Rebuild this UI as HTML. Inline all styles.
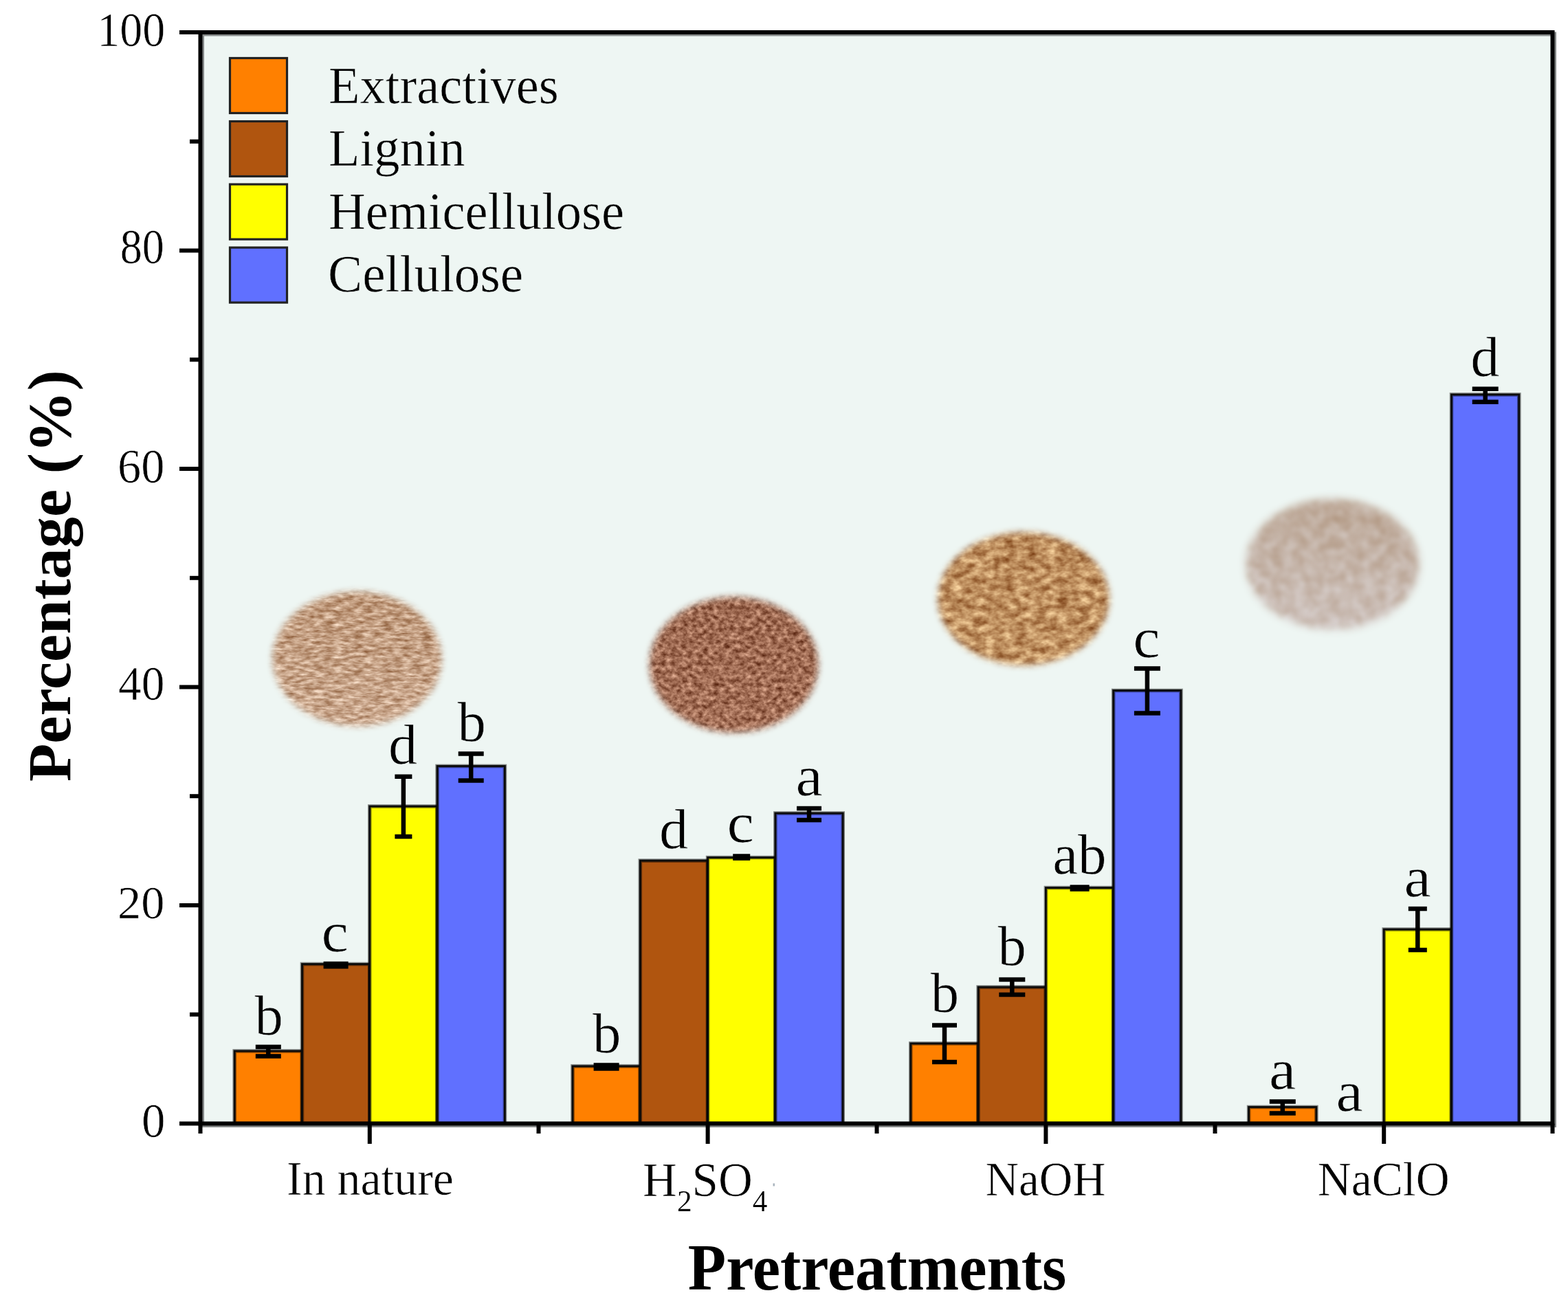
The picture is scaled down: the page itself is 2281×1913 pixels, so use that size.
<!DOCTYPE html>
<html><head><meta charset="utf-8"><title>Percentage chart</title>
<style>
html,body{margin:0;padding:0;background:#fff;}
body{width:2281px;height:1913px;overflow:hidden;}
svg{display:block;}
text{font-family:"Liberation Serif","Times New Roman",serif;fill:#000;}
</style></head><body>
<svg width="2281" height="1913" viewBox="0 0 2281 1913">
<defs>
<linearGradient id="gp1" x1="0" y1="860.5" x2="0" y2="1056.5" gradientUnits="userSpaceOnUse"><stop offset="0" stop-color="rgb(190, 152, 122)"/><stop offset="1" stop-color="rgb(202, 168, 142)"/></linearGradient>
<filter id="fp1" x="366.5" y="830.5" width="306" height="256" filterUnits="userSpaceOnUse" color-interpolation-filters="sRGB">
<feTurbulence type="fractalNoise" baseFrequency="0.07 0.24" numOctaves="3" seed="3" result="n"/>
<feColorMatrix in="n" type="matrix" values="0.5392 0 0 0 0.2304  0.6536 0 0 0 0.1732  0.7190 0 0 0 0.1405  0 0 0 0 1" result="c"/>
<feGaussianBlur in="c" stdDeviation="0.5" result="cb"/>
<feComposite in="SourceGraphic" in2="cb" operator="arithmetic" k1="0" k2="1" k3="1" k4="-0.5"/>
</filter>
<filter id="bp1" x="366.5" y="830.5" width="306" height="256" filterUnits="userSpaceOnUse"><feGaussianBlur stdDeviation="5"/></filter>
<mask id="mp1" maskUnits="userSpaceOnUse" x="366.5" y="830.5" width="306" height="256"><ellipse cx="519.5" cy="958.5" rx="123" ry="98" fill="#fff" filter="url(#bp1)"/></mask>
<linearGradient id="gp2" x1="0" y1="868" x2="0" y2="1066" gradientUnits="userSpaceOnUse"><stop offset="0" stop-color="rgb(156, 104, 80)"/><stop offset="1" stop-color="rgb(162, 110, 86)"/></linearGradient>
<filter id="fp2" x="914.5" y="838" width="306" height="258" filterUnits="userSpaceOnUse" color-interpolation-filters="sRGB">
<feTurbulence type="fractalNoise" baseFrequency="0.13 0.16" numOctaves="3" seed="7" result="n"/>
<feColorMatrix in="n" type="matrix" values="0.7026 0 0 0 0.1487  0.7026 0 0 0 0.1487  0.6699 0 0 0 0.1650  0 0 0 0 1" result="c"/>
<feGaussianBlur in="c" stdDeviation="0.5" result="cb"/>
<feComposite in="SourceGraphic" in2="cb" operator="arithmetic" k1="0" k2="1" k3="1" k4="-0.5"/>
</filter>
<filter id="bp2" x="914.5" y="838" width="306" height="258" filterUnits="userSpaceOnUse"><feGaussianBlur stdDeviation="5"/></filter>
<mask id="mp2" maskUnits="userSpaceOnUse" x="914.5" y="838" width="306" height="258"><ellipse cx="1067.5" cy="967" rx="123" ry="99" fill="#fff" filter="url(#bp2)"/></mask>
<linearGradient id="gp3" x1="0" y1="774" x2="0" y2="968" gradientUnits="userSpaceOnUse"><stop offset="0" stop-color="rgb(186, 138, 90)"/><stop offset="1" stop-color="rgb(192, 146, 98)"/></linearGradient>
<filter id="fp3" x="1334" y="744" width="310" height="254" filterUnits="userSpaceOnUse" color-interpolation-filters="sRGB">
<feTurbulence type="fractalNoise" baseFrequency="0.065 0.1" numOctaves="3" seed="11" result="n"/>
<feColorMatrix in="n" type="matrix" values="0.6209 0 0 0 0.1895  0.7353 0 0 0 0.1324  0.6863 0 0 0 0.1569  0 0 0 0 1" result="c"/>
<feGaussianBlur in="c" stdDeviation="0.7" result="cb"/>
<feComposite in="SourceGraphic" in2="cb" operator="arithmetic" k1="0" k2="1" k3="1" k4="-0.5"/>
</filter>
<filter id="bp3" x="1334" y="744" width="310" height="254" filterUnits="userSpaceOnUse"><feGaussianBlur stdDeviation="5"/></filter>
<mask id="mp3" maskUnits="userSpaceOnUse" x="1334" y="744" width="310" height="254"><ellipse cx="1489" cy="871" rx="125" ry="97" fill="#fff" filter="url(#bp3)"/></mask>
<linearGradient id="gp4" x1="0" y1="726" x2="0" y2="916" gradientUnits="userSpaceOnUse"><stop offset="0" stop-color="rgb(188, 167, 150)"/><stop offset="1" stop-color="rgb(205, 193, 187)"/></linearGradient>
<filter id="fp4" x="1782.6" y="696" width="312" height="250" filterUnits="userSpaceOnUse" color-interpolation-filters="sRGB">
<feTurbulence type="fractalNoise" baseFrequency="0.06" numOctaves="2" seed="5" result="n"/>
<feColorMatrix in="n" type="matrix" values="0.1471 0 0 0 0.4265  0.2124 0 0 0 0.3938  0.2778 0 0 0 0.3611  0 0 0 0 1" result="c"/>
<feGaussianBlur in="c" stdDeviation="2.0" result="cb"/>
<feComposite in="SourceGraphic" in2="cb" operator="arithmetic" k1="0" k2="1" k3="1" k4="-0.5"/>
</filter>
<filter id="bp4" x="1782.6" y="696" width="312" height="250" filterUnits="userSpaceOnUse"><feGaussianBlur stdDeviation="6"/></filter>
<mask id="mp4" maskUnits="userSpaceOnUse" x="1782.6" y="696" width="312" height="250"><ellipse cx="1938.6" cy="821" rx="126" ry="95" fill="#fff" filter="url(#bp4)"/></mask>
</defs>
<rect x="291.5" y="47.0" width="1967.0" height="1587.5" fill="#eef6f3"/>
<rect x="366.5" y="830.5" width="306" height="256" fill="url(#gp1)" filter="url(#fp1)" mask="url(#mp1)"/>
<rect x="914.5" y="838" width="306" height="258" fill="url(#gp2)" filter="url(#fp2)" mask="url(#mp2)"/>
<rect x="1334" y="744" width="310" height="254" fill="url(#gp3)" filter="url(#fp3)" mask="url(#mp3)"/>
<rect x="1782.6" y="696" width="312" height="250" fill="url(#gp4)" filter="url(#fp4)" mask="url(#mp4)"/>
<rect x="341.2" y="1529" width="98.3" height="105.5" fill="#ff8000" stroke="#000" stroke-opacity="0.45" stroke-width="5.6"/>
<rect x="341.2" y="1529" width="98.3" height="105.5" fill="none" stroke="#0a0a0a" stroke-width="2.8"/>
<rect x="439.5" y="1402.5" width="98.3" height="232.0" fill="#b0550f" stroke="#000" stroke-opacity="0.45" stroke-width="5.6"/>
<rect x="439.5" y="1402.5" width="98.3" height="232.0" fill="none" stroke="#0a0a0a" stroke-width="2.8"/>
<rect x="537.8" y="1173" width="98.3" height="461.5" fill="#ffff00" stroke="#000" stroke-opacity="0.45" stroke-width="5.6"/>
<rect x="537.8" y="1173" width="98.3" height="461.5" fill="none" stroke="#0a0a0a" stroke-width="2.8"/>
<rect x="636.1" y="1114.5" width="98.3" height="520.0" fill="#6070ff" stroke="#000" stroke-opacity="0.45" stroke-width="5.6"/>
<rect x="636.1" y="1114.5" width="98.3" height="520.0" fill="none" stroke="#0a0a0a" stroke-width="2.8"/>
<rect x="833.0" y="1551" width="98.3" height="83.5" fill="#ff8000" stroke="#000" stroke-opacity="0.45" stroke-width="5.6"/>
<rect x="833.0" y="1551" width="98.3" height="83.5" fill="none" stroke="#0a0a0a" stroke-width="2.8"/>
<rect x="931.3" y="1252" width="98.3" height="382.5" fill="#b0550f" stroke="#000" stroke-opacity="0.45" stroke-width="5.6"/>
<rect x="931.3" y="1252" width="98.3" height="382.5" fill="none" stroke="#0a0a0a" stroke-width="2.8"/>
<rect x="1029.6" y="1247.5" width="98.3" height="387.0" fill="#ffff00" stroke="#000" stroke-opacity="0.45" stroke-width="5.6"/>
<rect x="1029.6" y="1247.5" width="98.3" height="387.0" fill="none" stroke="#0a0a0a" stroke-width="2.8"/>
<rect x="1127.9" y="1183" width="98.3" height="451.5" fill="#6070ff" stroke="#000" stroke-opacity="0.45" stroke-width="5.6"/>
<rect x="1127.9" y="1183" width="98.3" height="451.5" fill="none" stroke="#0a0a0a" stroke-width="2.8"/>
<rect x="1324.8" y="1518" width="98.3" height="116.5" fill="#ff8000" stroke="#000" stroke-opacity="0.45" stroke-width="5.6"/>
<rect x="1324.8" y="1518" width="98.3" height="116.5" fill="none" stroke="#0a0a0a" stroke-width="2.8"/>
<rect x="1423.1" y="1436" width="98.3" height="198.5" fill="#b0550f" stroke="#000" stroke-opacity="0.45" stroke-width="5.6"/>
<rect x="1423.1" y="1436" width="98.3" height="198.5" fill="none" stroke="#0a0a0a" stroke-width="2.8"/>
<rect x="1521.4" y="1291.5" width="98.3" height="343.0" fill="#ffff00" stroke="#000" stroke-opacity="0.45" stroke-width="5.6"/>
<rect x="1521.4" y="1291.5" width="98.3" height="343.0" fill="none" stroke="#0a0a0a" stroke-width="2.8"/>
<rect x="1619.7" y="1004.5" width="98.3" height="630.0" fill="#6070ff" stroke="#000" stroke-opacity="0.45" stroke-width="5.6"/>
<rect x="1619.7" y="1004.5" width="98.3" height="630.0" fill="none" stroke="#0a0a0a" stroke-width="2.8"/>
<rect x="1816.6" y="1610.5" width="98.3" height="24.0" fill="#ff8000" stroke="#000" stroke-opacity="0.45" stroke-width="5.6"/>
<rect x="1816.6" y="1610.5" width="98.3" height="24.0" fill="none" stroke="#0a0a0a" stroke-width="2.8"/>
<rect x="2013.2" y="1352" width="98.3" height="282.5" fill="#ffff00" stroke="#000" stroke-opacity="0.45" stroke-width="5.6"/>
<rect x="2013.2" y="1352" width="98.3" height="282.5" fill="none" stroke="#0a0a0a" stroke-width="2.8"/>
<rect x="2111.5" y="574" width="98.3" height="1060.5" fill="#6070ff" stroke="#000" stroke-opacity="0.45" stroke-width="5.6"/>
<rect x="2111.5" y="574" width="98.3" height="1060.5" fill="none" stroke="#0a0a0a" stroke-width="2.8"/>
<path d="M390.3 1522.9V1536.5M371.8 1522.9H408.8M371.8 1536.5H408.8" stroke="#000" stroke-width="6.5" fill="none" stroke-linecap="butt"/>
<path d="M488.6 1402.0V1406.0M470.6 1402.0H506.6M470.6 1406.0H506.6" stroke="#000" stroke-width="6.5" fill="none" stroke-linecap="butt"/>
<path d="M586.9 1129.8V1217.0M574.4 1129.8H599.4M574.4 1217.0H599.4" stroke="#000" stroke-width="6.5" fill="none" stroke-linecap="butt"/>
<path d="M685.2 1096.4V1135.6M666.7 1096.4H703.7M666.7 1135.6H703.7" stroke="#000" stroke-width="6.5" fill="none" stroke-linecap="butt"/>
<path d="M882.1 1549.5V1554.5M863.6 1549.5H900.6M863.6 1554.5H900.6" stroke="#000" stroke-width="6.5" fill="none" stroke-linecap="butt"/>
<path d="M1078.8 1245.5V1248.5M1066.2 1245.5H1091.2M1066.2 1248.5H1091.2" stroke="#000" stroke-width="6.5" fill="none" stroke-linecap="butt"/>
<path d="M1177.0 1176.0V1193.0M1159.0 1176.0H1195.0M1159.0 1193.0H1195.0" stroke="#000" stroke-width="6.5" fill="none" stroke-linecap="butt"/>
<path d="M1374.0 1491.6V1545.0M1356.0 1491.6H1392.0M1356.0 1545.0H1392.0" stroke="#000" stroke-width="6.5" fill="none" stroke-linecap="butt"/>
<path d="M1472.3 1425.0V1447.0M1453.3 1425.0H1491.3M1453.3 1447.0H1491.3" stroke="#000" stroke-width="6.5" fill="none" stroke-linecap="butt"/>
<path d="M1570.6 1290.5V1293.5M1556.6 1290.5H1584.6M1556.6 1293.5H1584.6" stroke="#000" stroke-width="6.5" fill="none" stroke-linecap="butt"/>
<path d="M1668.9 972.4V1037.6M1649.9 972.4H1687.9M1649.9 1037.6H1687.9" stroke="#000" stroke-width="6.5" fill="none" stroke-linecap="butt"/>
<path d="M1865.8 1602.4V1619.6M1846.8 1602.4H1884.8M1846.8 1619.6H1884.8" stroke="#000" stroke-width="6.5" fill="none" stroke-linecap="butt"/>
<path d="M2062.3 1322.0V1382.0M2048.8 1322.0H2075.8M2048.8 1382.0H2075.8" stroke="#000" stroke-width="6.5" fill="none" stroke-linecap="butt"/>
<path d="M2160.7 565.7V584.7M2141.7 565.7H2179.7M2141.7 584.7H2179.7" stroke="#000" stroke-width="6.5" fill="none" stroke-linecap="butt"/>
<text transform="matrix(0.8278 0 0 0.8349 370.46 1504.87)" font-size="100" stroke="#eef6f3" stroke-width="0.8">b</text>
<text transform="matrix(0.8860 0 0 0.8250 467.62 1383.67)" font-size="100" stroke="#eef6f3" stroke-width="0.8">c</text>
<text transform="matrix(0.8435 0 0 0.8314 565.07 1111.17)" font-size="100" stroke="#eef6f3" stroke-width="0.8">d</text>
<text transform="matrix(0.8278 0 0 0.8349 665.51 1077.77)" font-size="100" stroke="#eef6f3" stroke-width="0.8">b</text>
<text transform="matrix(0.8278 0 0 0.8349 861.96 1531.17)" font-size="100" stroke="#eef6f3" stroke-width="0.8">b</text>
<text transform="matrix(0.8435 0 0 0.8314 959.07 1234.17)" font-size="100" stroke="#eef6f3" stroke-width="0.8">d</text>
<text transform="matrix(0.8860 0 0 0.8250 1057.62 1225.17)" font-size="100" stroke="#eef6f3" stroke-width="0.8">c</text>
<text transform="matrix(0.8862 0 0 0.8313 1157.62 1157.17)" font-size="100" stroke="#eef6f3" stroke-width="0.8">a</text>
<text transform="matrix(0.8278 0 0 0.8349 1353.81 1471.77)" font-size="100" stroke="#eef6f3" stroke-width="0.8">b</text>
<text transform="matrix(0.8278 0 0 0.8349 1451.46 1404.17)" font-size="100" stroke="#eef6f3" stroke-width="0.8">b</text>
<text transform="matrix(0.8307 0 0 0.8286 1531.21 1271.17)" font-size="100" stroke="#eef6f3" stroke-width="0.8">ab</text>
<text transform="matrix(0.8860 0 0 0.8250 1648.32 955.67)" font-size="100" stroke="#eef6f3" stroke-width="0.8">c</text>
<text transform="matrix(0.8862 0 0 0.8313 1845.92 1583.67)" font-size="100" stroke="#eef6f3" stroke-width="0.8">a</text>
<text transform="matrix(0.8862 0 0 0.8313 1943.62 1615.87)" font-size="100" stroke="#eef6f3" stroke-width="0.8">a</text>
<text transform="matrix(0.8862 0 0 0.8313 2042.62 1303.57)" font-size="100" stroke="#eef6f3" stroke-width="0.8">a</text>
<text transform="matrix(0.8435 0 0 0.8314 2139.27 546.77)" font-size="100" stroke="#eef6f3" stroke-width="0.8">d</text>
<rect x="294.0" y="49.5" width="1967.0" height="1587.5" fill="none" stroke="#868a89" stroke-width="6"/>
<rect x="291.5" y="47.0" width="1967.0" height="1587.5" fill="none" stroke="#000" stroke-width="6"/>
<line x1="261" y1="1634.5" x2="291.5" y2="1634.5" stroke="#000" stroke-width="6"/>
<line x1="276" y1="1475.8" x2="291.5" y2="1475.8" stroke="#000" stroke-width="6"/>
<line x1="261" y1="1317.0" x2="291.5" y2="1317.0" stroke="#000" stroke-width="6"/>
<line x1="276" y1="1158.2" x2="291.5" y2="1158.2" stroke="#000" stroke-width="6"/>
<line x1="261" y1="999.5" x2="291.5" y2="999.5" stroke="#000" stroke-width="6"/>
<line x1="276" y1="840.8" x2="291.5" y2="840.8" stroke="#000" stroke-width="6"/>
<line x1="261" y1="682.0" x2="291.5" y2="682.0" stroke="#000" stroke-width="6"/>
<line x1="276" y1="523.2" x2="291.5" y2="523.2" stroke="#000" stroke-width="6"/>
<line x1="261" y1="364.5" x2="291.5" y2="364.5" stroke="#000" stroke-width="6"/>
<line x1="276" y1="205.8" x2="291.5" y2="205.8" stroke="#000" stroke-width="6"/>
<line x1="261" y1="47.0" x2="291.5" y2="47.0" stroke="#000" stroke-width="6"/>
<line x1="291.5" y1="1634.5" x2="291.5" y2="1649" stroke="#000" stroke-width="6"/>
<line x1="783.5" y1="1634.5" x2="783.5" y2="1649" stroke="#000" stroke-width="6"/>
<line x1="1275.5" y1="1634.5" x2="1275.5" y2="1649" stroke="#000" stroke-width="6"/>
<line x1="1767.5" y1="1634.5" x2="1767.5" y2="1649" stroke="#000" stroke-width="6"/>
<line x1="2258.5" y1="1634.5" x2="2258.5" y2="1649" stroke="#000" stroke-width="6"/>
<line x1="537.8" y1="1634.5" x2="537.8" y2="1664" stroke="#000" stroke-width="6"/>
<line x1="1029.6" y1="1634.5" x2="1029.6" y2="1664" stroke="#000" stroke-width="6"/>
<line x1="1521.4" y1="1634.5" x2="1521.4" y2="1664" stroke="#000" stroke-width="6"/>
<line x1="2013.2" y1="1634.5" x2="2013.2" y2="1664" stroke="#000" stroke-width="6"/>
<rect x="334.5" y="84.5" width="83" height="80" fill="#ff8000" stroke="#222" stroke-width="3.2"/>
<rect x="334.5" y="176.5" width="83" height="80" fill="#b0550f" stroke="#222" stroke-width="3.2"/>
<rect x="334.5" y="268.1" width="83" height="80" fill="#ffff00" stroke="#222" stroke-width="3.2"/>
<rect x="334.5" y="360.1" width="83" height="80" fill="#6070ff" stroke="#222" stroke-width="3.2"/>
<text transform="matrix(0.9433 0 0 1.0000 141.34 66.50)" font-size="70" stroke="#fff" stroke-width="0.6">100</text>
<text transform="matrix(0.9167 0 0 1.0208 174.67 383.48)" font-size="70" stroke="#fff" stroke-width="0.6">80</text>
<text transform="matrix(0.9769 0 0 0.9896 171.07 701.51)" font-size="70" stroke="#fff" stroke-width="0.6">60</text>
<text transform="matrix(0.9627 0 0 1.0104 172.04 1018.49)" font-size="70" stroke="#fff" stroke-width="0.6">40</text>
<text transform="matrix(0.9769 0 0 0.9688 171.07 1335.53)" font-size="70" stroke="#fff" stroke-width="0.6">20</text>
<text transform="matrix(0.9839 0 0 0.9896 206.03 1653.51)" font-size="70" stroke="#fff" stroke-width="0.6">0</text>
<text transform="matrix(0.9688 0 0 0.9900 417.06 1738.00)" font-size="70" stroke="#fff" stroke-width="0.6">In nature</text>
<text transform="matrix(0.9863 0 0 0.9855 935.03 1739.82)" font-size="70" stroke="#fff" stroke-width="0.6">H<tspan font-size="44" dy="22" stroke-width="0.2">2</tspan><tspan dy="-22">SO</tspan><tspan font-size="44" dy="22" stroke-width="0.2">4</tspan></text>
<text transform="matrix(0.9587 0 0 0.9900 1433.48 1738.60)" font-size="70" stroke="#fff" stroke-width="0.6">NaOH</text>
<text transform="matrix(0.9675 0 0 0.9900 1916.76 1738.60)" font-size="70" stroke="#fff" stroke-width="0.6">NaClO</text>
<text transform="matrix(0.9649 0 0 1.0113 1000.74 1875.99)" font-size="94" font-weight="bold" stroke="#fff" stroke-width="0">Pretreatments</text>
<text transform="matrix(0 -0.9727 0.9588 0 102.12 1136.97)" font-size="93" font-weight="bold">Percentage (%)</text>
<text transform="matrix(0.9538 0 0 0.9680 478.09 149.80)" font-size="78" stroke="#eef6f3" stroke-width="0.6">Extractives</text>
<text transform="matrix(0.9546 0 0 0.9680 478.09 241.20)" font-size="78" stroke="#eef6f3" stroke-width="0.6">Lignin</text>
<text transform="matrix(0.9545 0 0 0.9680 478.09 332.70)" font-size="78" stroke="#eef6f3" stroke-width="0.6">Hemicellulose</text>
<text transform="matrix(0.9640 0 0 0.9680 477.11 423.60)" font-size="78" stroke="#eef6f3" stroke-width="0.6">Cellulose</text>
<rect x="1124.5" y="1721.5" width="2.5" height="4" fill="#a9b4bd"/>
</svg>
</body></html>
